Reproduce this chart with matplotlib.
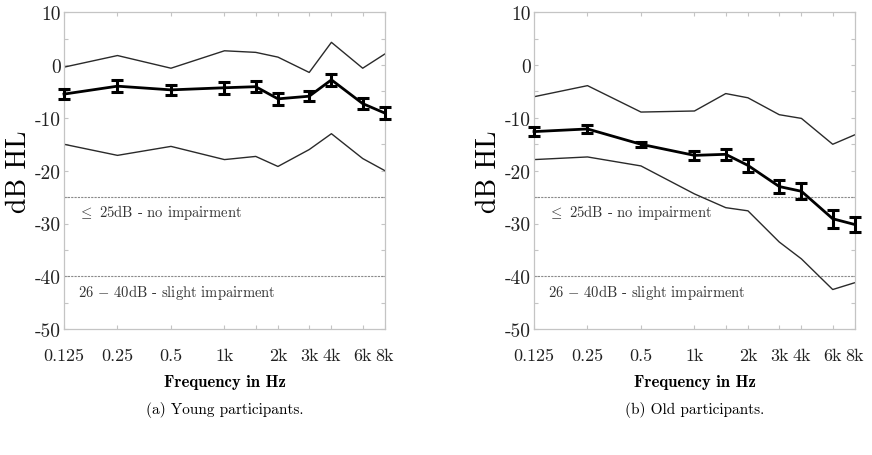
import matplotlib
matplotlib.use("Agg")
import matplotlib.pyplot as plt
import numpy as np

# audiogram data (dB HL) per frequency (kHz)
freqs = [0.125, 0.25, 0.5, 1, 1.5, 2, 3, 4, 6, 8]
freq_labels = ["0.125", "0.25", "0.5", "1k", "", "2k", "3k", "4k", "6k", "8k"]

young_mean = [-5.5, -4.0, -4.7, -4.3, -4.1, -6.4, -5.9, -2.8, -7.3, -9.1]
young_err = [0.9, 1.1, 1.0, 1.1, 1.0, 1.1, 0.9, 1.1, 1.1, 1.1]
young_upper = [-0.4, 1.8, -0.6, 2.7, 2.4, 1.5, -1.4, 4.3, -0.6, 2.1]
young_lower = [-15.0, -17.1, -15.4, -17.9, -17.3, -19.2, -16.0, -13.0, -17.7, -20.0]

old_mean = [-12.6, -12.1, -15.0, -17.1, -16.9, -19.0, -23.0, -23.9, -29.1, -30.2]
old_err = [0.8, 0.7, 0.5, 0.9, 1.0, 1.2, 1.3, 1.5, 1.7, 1.5]
old_upper = [-6.0, -3.9, -8.9, -8.7, -5.4, -6.2, -9.4, -10.1, -15.0, -13.2]
old_lower = [-17.9, -17.4, -19.1, -24.4, -27.0, -27.6, -33.5, -36.7, -42.5, -41.2]

ytick_vals = [10, 0, -10, -20, -30, -40, -50]
ytick_labels = ["10", "0", "-10", "-20", "-30", "-40", "-50"]

plt.rcParams["font.family"] = "cmr10"
plt.rcParams["mathtext.fontset"] = "cm"
plt.rcParams["axes.formatter.use_mathtext"] = True

fig = plt.figure(figsize=(8.72, 4.56), dpi=100)

panels = [
    (0.0734, young_mean, young_err, young_upper, young_lower, "(a) Young participants."),
    (0.6124, old_mean, old_err, old_upper, old_lower, "(b) Old participants."),
]

frame_col = "#c4c4c4"

for left, mean, err, upper, lower, caption in panels:
    ax = fig.add_axes([left, 0.276, 0.368, 0.695])
    ax.set_xscale("log", base=2)
    ax.set_xlim(0.125, 8)
    ax.set_ylim(-50, 10)

    ax.axhline(-25, color="#8a8a8a", lw=0.8, ls=(0, (2, 1)))
    ax.axhline(-40, color="#8a8a8a", lw=0.8, ls=(0, (2, 1)))

    ax.plot(freqs, upper, color="#2a2a2a", lw=1.0)
    ax.plot(freqs, lower, color="#2a2a2a", lw=1.0)
    ax.errorbar(freqs, mean, yerr=err, color="black", lw=2.0, elinewidth=2.2,
                capsize=4, capthick=2.2, clip_on=False, zorder=5)

    ax.text(0.045, -27.8, r"$\leq$ 25dB - no impairment", transform=ax.get_yaxis_transform(),
            fontsize=10.5, color="#333333", va="center", ha="left")
    ax.text(0.045, -42.9, r"26 $-$ 40dB - slight impairment", transform=ax.get_yaxis_transform(),
            fontsize=10.5, color="#333333", va="center", ha="left")

    ax.set_xticks(freqs)
    ax.set_xticklabels(freq_labels, fontsize=13)
    ax.xaxis.set_minor_locator(matplotlib.ticker.NullLocator())
    ax.set_yticks(ytick_vals)
    ax.set_yticklabels(ytick_labels, fontsize=14)
    ax.set_yticks(np.arange(-45, 10, 10), minor=True)

    ax.tick_params(axis="both", which="both", direction="in", top=True, right=True,
                   color=frame_col, length=3, width=0.8)
    ax.tick_params(axis="x", pad=13, colors="#222222")
    ax.tick_params(axis="x", which="both", color=frame_col)
    ax.tick_params(axis="y", pad=2, colors="#222222")
    ax.tick_params(axis="y", which="both", color=frame_col)
    for s in ax.spines.values():
        s.set_color(frame_col)
        s.set_linewidth(0.9)

    ax.set_ylabel("dB HL", fontsize=20, labelpad=2)
    ax.set_xlabel("Frequency in Hz", fontfamily="cmb10", fontsize=12, labelpad=8)
    cx = left + 0.368 / 2
    fig.text(cx, 1 - 410 / 456, caption, ha="center", va="center", fontsize=11)

fig.savefig("out.png", dpi=100)
